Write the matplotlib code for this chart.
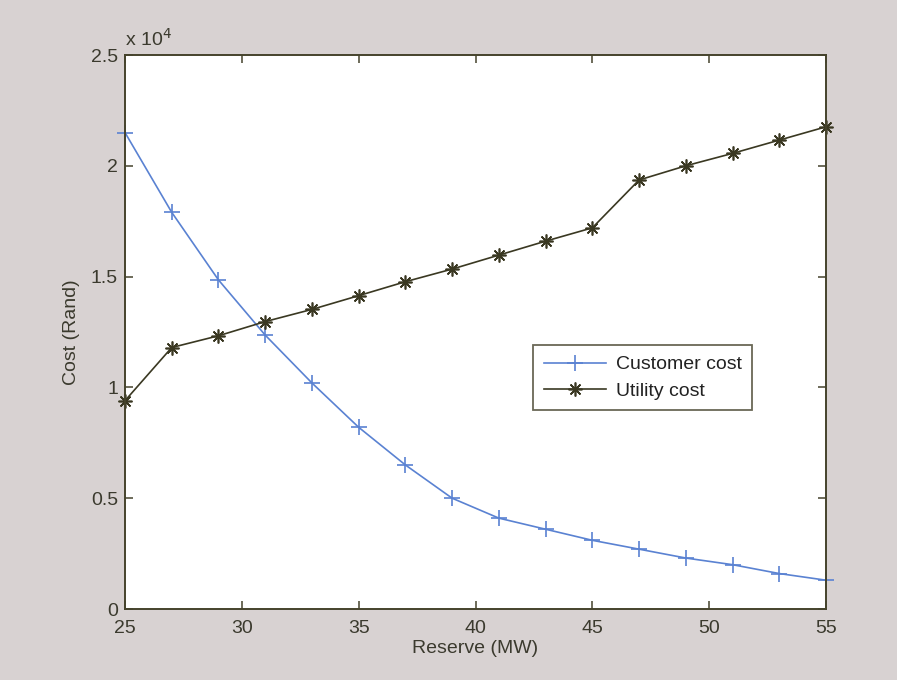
import matplotlib

matplotlib.use('Agg')

import matplotlib.pyplot as plt

plt.rcParams['font.family'] = ['Liberation Sans', 'DejaVu Sans']

reserve = [25, 27, 29, 31, 33, 35, 37, 39, 41, 43, 45, 47, 49, 51, 53, 55]
# costs in units of 1e4 Rand
customer_cost = [2.15, 1.79, 1.485, 1.236, 1.02, 0.82, 0.65, 0.50, 0.41,
                 0.36, 0.31, 0.27, 0.23, 0.20, 0.16, 0.13]
utility_cost = [0.94, 1.18, 1.233, 1.297, 1.352, 1.414, 1.477, 1.534, 1.597,
                1.66, 1.72, 1.936, 2.0, 2.056, 2.116, 2.176]

x_ticks = [25, 30, 35, 40, 45, 50, 55]
y_ticks = [0, 0.5, 1, 1.5, 2, 2.5]
y_tick_labels = ['0', '0.5', '1', '1.5', '2', '2.5']

bg = '#d8d2d2'
axis_col = '#45432c'
text_col = '#3b3a2e'
fs = 14

fig = plt.figure(figsize=(8.97, 6.80), dpi=100, facecolor=bg)
ax = fig.add_axes([125 / 897, 1 - 609 / 680, (826 - 125) / 897, (609 - 55) / 680])
ax.set_facecolor('white')

ax.plot(reserve, customer_cost, color='#5a82d2', lw=1.2, marker='+',
        markersize=11, mew=1.2, label='Customer cost', clip_on=False)
ax.plot(reserve, utility_cost, color='#3a3822', lw=1.2, marker=(8, 2, 0),
        markersize=10, mew=1.2, label='Utility cost', clip_on=False)

ax.set_xlim(25, 55)
ax.set_ylim(0, 2.5)
ax.set_xticks(x_ticks)
ax.set_yticks(y_ticks)
ax.set_yticklabels(y_tick_labels)
ax.tick_params(direction='in', top=True, right=True, length=6, width=1.1,
               colors=axis_col, labelsize=fs, labelcolor=text_col)
ax.tick_params(axis='x', pad=8)
ax.tick_params(axis='y', pad=5)
for sp in ax.spines.values():
    sp.set_color(axis_col)
    sp.set_linewidth(1.4)

ax.set_xlabel('Reserve (MW)', fontsize=fs, color=text_col, labelpad=2)
ax.set_ylabel('Cost (Rand)', fontsize=fs, color=text_col, labelpad=8)
ax.text(0.0, 1.01, r'x 10$^4$', transform=ax.transAxes, fontsize=fs,
        color=text_col, ha='left', va='bottom')

leg = ax.legend(loc='upper left', bbox_to_anchor=((533 - 125) / 701, 1 - (345 - 55) / 554),
                fontsize=fs, frameon=True, fancybox=False, handlelength=3.2,
                borderpad=0.55, labelspacing=0.45, handletextpad=0.5, borderaxespad=0)
leg.get_frame().set_edgecolor(axis_col)
leg.get_frame().set_linewidth(1.3)
for t in leg.get_texts():
    t.set_color('#222222')

fig.savefig('out.png', dpi=100, facecolor=bg)
